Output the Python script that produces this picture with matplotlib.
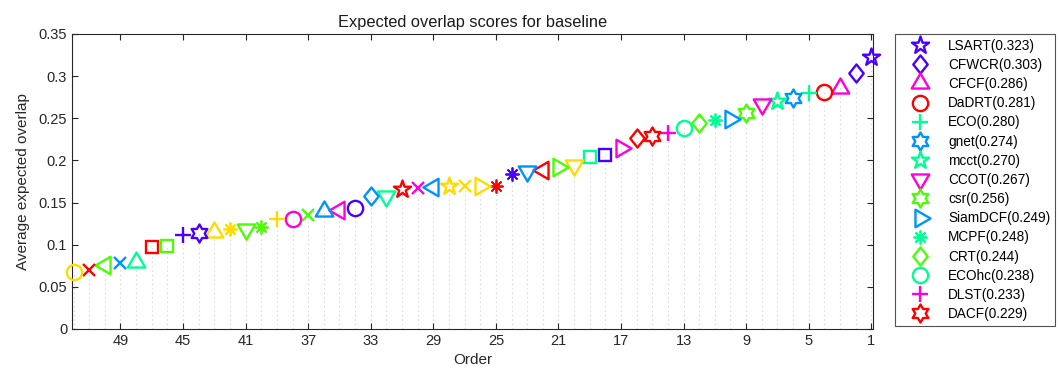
import numpy as np
import matplotlib.pyplot as plt
from matplotlib.path import Path

plt.rcParams['font.family'] = ['Liberation Sans', 'DejaVu Sans']

# trackers sorted by rank (order 1 = best); only the top 15 are named in the legend
names = ['LSART', 'CFWCR', 'CFCF', 'DaDRT', 'ECO', 'gnet', 'mcct', 'CCOT', 'csr',
         'SiamDCF', 'MCPF', 'CRT', 'ECOhc', 'DLST', 'DACF']
eao = [0.323, 0.303, 0.286, 0.281, 0.280, 0.274, 0.270, 0.267, 0.256, 0.249,
       0.248, 0.244, 0.238, 0.233, 0.229,
       0.227, 0.215, 0.206, 0.204, 0.195, 0.192, 0.188, 0.187, 0.184, 0.170,
       0.169, 0.169, 0.169, 0.168, 0.167, 0.166, 0.158, 0.158, 0.143, 0.141,
       0.140, 0.135, 0.131, 0.130, 0.121, 0.119, 0.118, 0.115, 0.114, 0.111,
       0.098, 0.097, 0.079, 0.078, 0.076, 0.070, 0.068]
marks = ['p', 'd', '^', 'o', '+', 'h', 'p', 'v', 'h', '>', '*', 'd', 'o', '+', 'h',
         'd', '>', 's', 's', 'v', '>', '<', 'v', '*', '*', '>', 'x', 'p', '<', 'x',
         'p', 'v', 'd', 'o', '<', '^', 'x', 'o', '+', '*', 'v', '*', '^', 'h', '+',
         's', 's', '^', 'x', '<', 'x', 'o']
cols = ['P', 'P', 'M', 'R', 'C', 'B', 'C', 'M', 'G', 'B', 'C', 'G', 'C', 'M', 'R',
        'R', 'M', 'P', 'C', 'Y', 'G', 'R', 'B', 'P', 'R', 'Y', 'Y', 'Y', 'B', 'M',
        'R', 'C', 'B', 'P', 'M', 'B', 'G', 'M', 'Y', 'G', 'G', 'Y', 'Y', 'P', 'P',
        'G', 'R', 'C', 'B', 'G', 'R', 'Y']

palette = {'R': '#ff0000', 'Y': '#ffdb00', 'G': '#49ff00', 'C': '#00ff92',
           'B': '#0092ff', 'P': '#4900ff', 'M': '#ff00db'}


def star(n, inner):
    ang = np.pi / 2 + np.arange(2 * n) * np.pi / n
    r = np.where(np.arange(2 * n) % 2 == 0, 1.0, inner)
    v = np.column_stack([r * np.cos(ang), r * np.sin(ang)])
    return Path(np.vstack([v, v[:1]]), closed=True)


def tri(rot):
    # triangle centred on its centroid, like matlab draws it
    v = np.array([[0, 1], [-0.87, -0.5], [0.87, -0.5], [0, 1]])
    c, s = np.cos(np.radians(rot)), np.sin(np.radians(rot))
    v = v @ np.array([[c, s], [-s, c]])
    return Path(v, closed=True)


shapes = {
    'p': (star(5, 0.382), 13),
    'h': (star(6, 0.577), 13),
    'd': (Path([[0, 1], [0.8, 0], [0, -1], [-0.8, 0], [0, 1]], closed=True), 13),
    '^': (tri(0), 14.5),
    'v': (tri(180), 14.5),
    '<': (tri(90), 14.5),
    '>': (tri(-90), 14.5),
    'o': ('o', 11),
    's': ('s', 8),
    '+': ('+', 11),
    'x': ('x', 8.5),
    '*': ((8, 2, 0), 10),
}

order = np.arange(1, len(eao) + 1)

fig = plt.figure(figsize=(10.59, 3.76), dpi=100)
ax = fig.add_axes([0.068, 0.125, 0.7565, 0.785])

ax.vlines(order, 0, eao, colors='#cfcfcf', linestyles=(0, (1, 3)), linewidth=0.8, zorder=1)

for i in range(len(eao)):
    mk, ms = shapes[marks[i]]
    mew = 1.3 if marks[i] == '*' else 1.7
    ax.plot([order[i]], [eao[i]], ls='none', marker=mk, markersize=ms,
            markerfacecolor='none', markeredgecolor=palette[cols[i]],
            markeredgewidth=mew, zorder=3, clip_on=False,
            label=f'{names[i]}({eao[i]:.3f})' if i < len(names) else None)

ax.set_xlim(52.1, 0.88)
ax.set_ylim(0, 0.35)
ax.set_xticks(np.arange(49, 0, -4))
ax.set_yticks(np.arange(0, 0.351, 0.05))
ax.set_yticklabels(['0', '0.05', '0.1', '0.15', '0.2', '0.25', '0.3', '0.35'])
ax.tick_params(direction='in', top=True, right=True, length=4, labelsize=10.5,
               colors='#262626', width=0.8)
for sp in ax.spines.values():
    sp.set_color('#262626')
    sp.set_linewidth(0.8)

ax.set_title('Expected overlap scores for baseline', fontsize=11.8, color='#1a1a1a', pad=5)
ax.set_xlabel('Order', fontsize=11, color='#262626', labelpad=4)
ax.set_ylabel('Average expected overlap', fontsize=11, color='#262626', labelpad=6)

leg = ax.legend(loc='upper left', bbox_to_anchor=(895 / 1059, 1 - 34 / 376),
                bbox_transform=fig.transFigure, fontsize=9.8, frameon=True,
                fancybox=False, edgecolor='#262626', handlelength=3.0,
                handletextpad=0.55, labelspacing=0.38, borderpad=0.35,
                borderaxespad=0, numpoints=1)
leg.get_frame().set_linewidth(0.8)

fig.savefig('out.png', dpi=100)
